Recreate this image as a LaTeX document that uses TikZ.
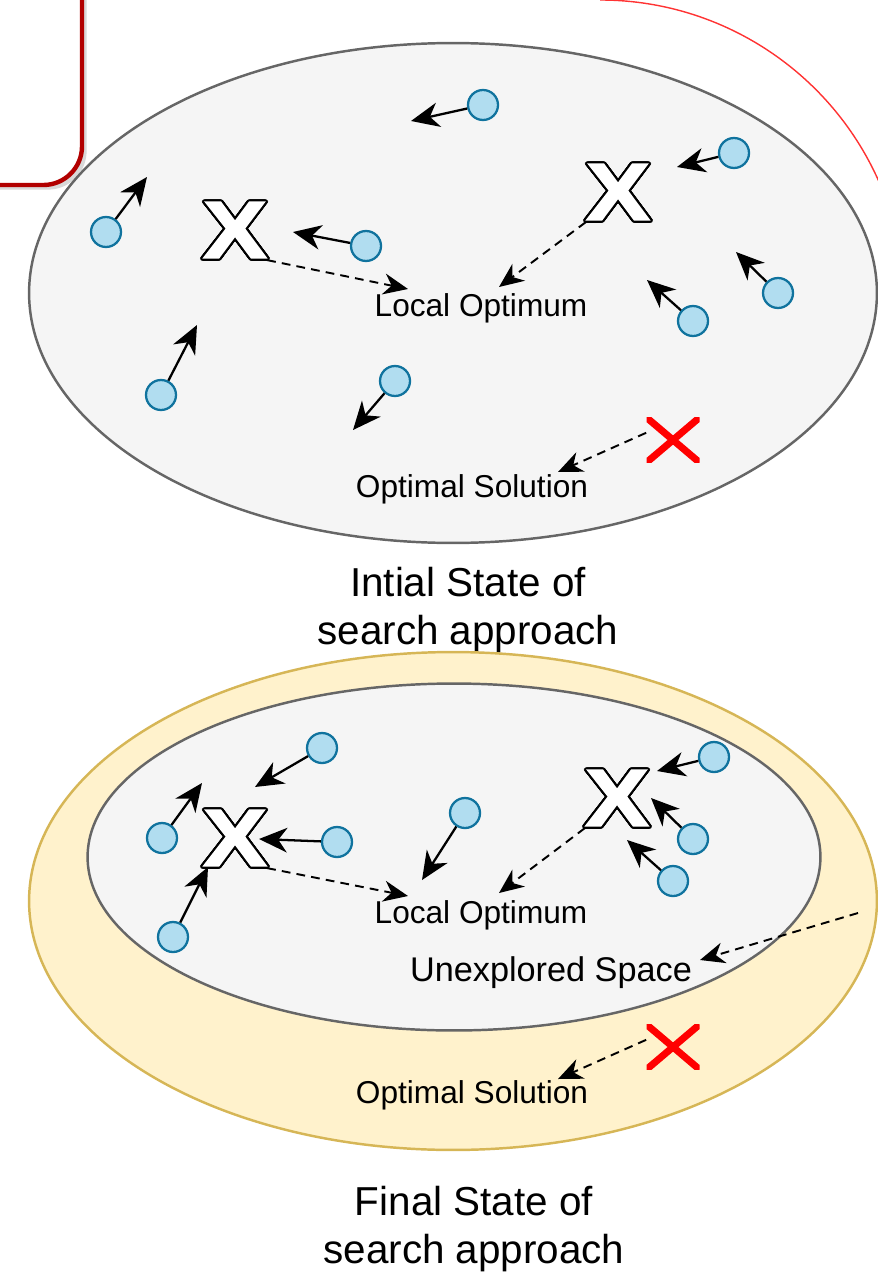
\documentclass[tikz,border=0pt]{standalone}
\usepackage{fontspec}
\setmainfont{Liberation Sans}
\usepackage{contour}
\usetikzlibrary{arrows.meta,shadows}
\definecolor{spacefill}{HTML}{F5F5F5}
\definecolor{spaceline}{HTML}{666666}
\definecolor{unexfill}{HTML}{FFF2CC}
\definecolor{unexline}{HTML}{D6B656}
\definecolor{partfill}{HTML}{B1DDF0}
\definecolor{partline}{HTML}{10739E}
\definecolor{boxred}{HTML}{B20000}
\definecolor{arcred}{HTML}{FF3333}
\contourlength{1.1pt}
\contournumber{24}
\newcommand{\hollowx}{\scalebox{1.18}[1]{\contour{black}{\addfontfeature{FakeBold=2}X}}}
\tikzstyle{particle}=[circle,fill=partfill,draw=partline,line width=1.3pt,minimum size=0.6cm,inner sep=0pt]
\tikzstyle{move}=[-{Stealth[length=16pt,width=14pt,inset=5pt]},line width=1.3pt]
\tikzstyle{hint}=[-{Stealth[length=14pt,width=12pt,inset=4.5pt]},line width=1.1pt,dash pattern=on 5pt off 3.5pt]
\tikzstyle{optimum}=[text=white,font=\fontsize{46}{46}\selectfont\bfseries,inner sep=0pt]
\tikzstyle{target}=[minimum width=1.06cm,minimum height=0.9cm,inner sep=0pt,path picture={
  \draw[red,line width=4pt] (path picture bounding box.north west) -- (path picture bounding box.south east)
    (path picture bounding box.north east) -- (path picture bounding box.south west);}]
\tikzstyle{annot}=[font=\fontsize{18}{21.6}\selectfont,inner sep=0pt]
\tikzstyle{heading}=[font=\fontsize{23}{27.3}\selectfont,align=center,inner sep=0pt]

\begin{document}
\begin{tikzpicture}[x=0.02cm,y=-0.02cm]
\useasboundingbox (0,0) rectangle (878,1280);
\clip (0,0) rectangle (878,1280);
% frame corners
\draw[boxred,line width=2.5pt,fill=white,rounded corners=22pt,drop shadow={opacity=0.3}] (-60,-60) rectangle (82,185);
\draw[arcred,line width=0.8pt] (600,0) arc[start angle=90,end angle=10,radius=6.1cm];

% initial state
\draw[spaceline,fill=spacefill,line width=1.4pt] (453,293) ellipse [x radius=8.48cm,y radius=5cm];
\node[optimum] at (235, 231) (xa) {\hollowx};
\node[optimum] at (618, 193) (xb) {\hollowx};
\node[target] at (673, 440) (ra) {};
\node[annot] at (481, 308) (loa) {Local Optimum};
\node[annot] at (472, 489) (osa) {Optimal Solution};
\node[heading] at (468, 610) (ha) {Intial State of\\search approach};
\node[particle] at (483, 105) (a1) {};
\node[particle] at (734, 153) (a2) {};
\node[particle] at (106, 232) (a3) {};
\node[particle] at (366, 246) (a4) {};
\node[particle] at (778, 293) (a5) {};
\node[particle] at (693, 321) (a6) {};
\node[particle] at (161, 395) (a7) {};
\node[particle] at (395, 381) (a8) {};
\coordinate (a1t) at (411, 121);
\coordinate (a2t) at (677, 167);
\coordinate (a3t) at (147, 177);
\coordinate (a4t) at (293, 232);
\coordinate (a5t) at (736, 252);
\coordinate (a6t) at (647, 280);
\coordinate (a7t) at (197, 325);
\coordinate (a8t) at (353, 430);
\coordinate (loat) at (408, 289);
\coordinate (lobt) at (499, 287);
\coordinate (osat) at (558, 472);
\draw[move] (a1) -- (a1t);
\draw[move] (a2) -- (a2t);
\draw[move] (a3) -- (a3t);
\draw[move] (a4) -- (a4t);
\draw[move] (a5) -- (a5t);
\draw[move] (a6) -- (a6t);
\draw[move] (a7) -- (a7t);
\draw[move] (a8) -- (a8t);
\draw[hint] (xa.south east) -- (loat);
\draw[hint] (xb.south west) -- (lobt);
\draw[hint] (ra.165) -- (osat);

% final state
\draw[unexline,fill=unexfill,line width=1.4pt] (453,901) ellipse [x radius=8.48cm,y radius=4.98cm];
\draw[spaceline,fill=spacefill,line width=1.4pt] (454,857) ellipse [x radius=7.33cm,y radius=3.47cm];
\node[optimum] at (235, 839) (xc) {\hollowx};
\node[optimum] at (617, 799) (xd) {\hollowx};
\node[target] at (673, 1047) (rb) {};
\node[annot] at (481, 915) (lob) {Local Optimum};
\node[annot,font=\fontsize{19.5}{23}\selectfont] at (551, 973) (us) {Unexplored Space};
\node[annot] at (472, 1095) (osb) {Optimal Solution};
\node[heading] at (474, 1229) (hb) {Final State of\\search approach};
\node[particle] at (322, 748) (b1) {};
\node[particle] at (162, 838) (b2) {};
\node[particle] at (337, 842) (b3) {};
\node[particle] at (173, 937) (b4) {};
\node[particle] at (465, 813) (b5) {};
\node[particle] at (714, 757) (b6) {};
\node[particle] at (693, 839) (b7) {};
\node[particle] at (673, 881) (b8) {};
\coordinate (b1t) at (255, 787);
\coordinate (b2t) at (202, 783);
\coordinate (b3t) at (259, 839);
\coordinate (b4t) at (208, 867);
\coordinate (b5t) at (422, 880);
\coordinate (b6t) at (657, 771);
\coordinate (b7t) at (651, 798);
\coordinate (b8t) at (627, 840);
\coordinate (loct) at (408, 896);
\coordinate (lodt) at (499, 893);
\coordinate (ust) at (700, 960);
\coordinate (usf) at (858, 913);
\coordinate (osbt) at (558, 1079);
\draw[move] (b1) -- (b1t);
\draw[move] (b2) -- (b2t);
\draw[move] (b3) -- (b3t);
\draw[move] (b4) -- (b4t);
\draw[move] (b5) -- (b5t);
\draw[move] (b6) -- (b6t);
\draw[move] (b7) -- (b7t);
\draw[move] (b8) -- (b8t);
\draw[hint] (xc.south east) -- (loct);
\draw[hint] (xd.south west) -- (lodt);
\draw[hint] (usf) -- (ust);
\draw[hint] (rb.165) -- (osbt);
\end{tikzpicture}
\end{document}
